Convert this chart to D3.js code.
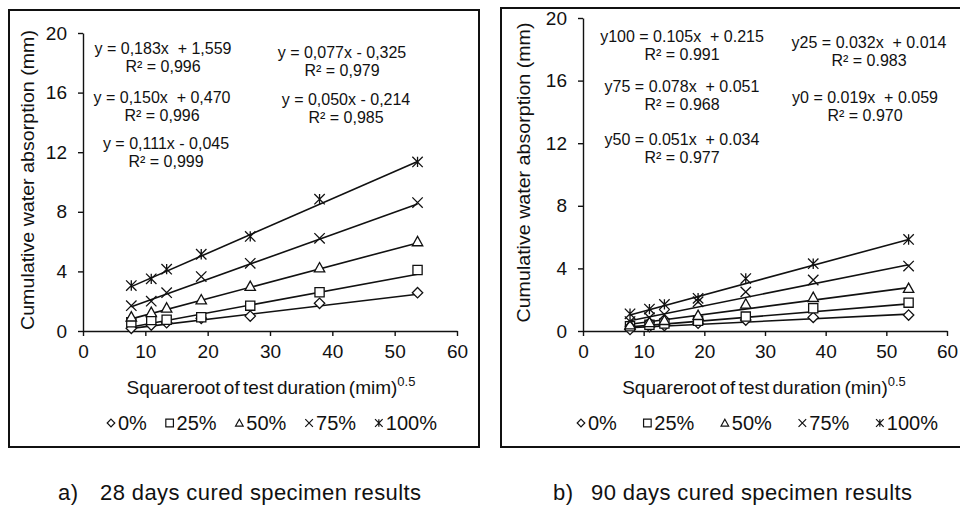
<!DOCTYPE html>
<html>
<head>
<meta charset="utf-8">
<script src="https://cdn.jsdelivr.net/npm/d3@7"></script>
<style>
  body { margin:0; background:#fff; }
  svg { display:block; font-family:"Liberation Sans", Arial, sans-serif; }
  .eq { white-space:pre; }
</style>
</head>
<body>
<svg width="960" height="505"></svg>
<script>

// square root of test duration, minutes^0.5 (60,120,180,360,720,1440,2880 min)
var sqrtTime = [7.75, 10.95, 13.42, 18.97, 26.83, 37.95, 53.67];
var xTicks = [0, 10, 20, 30, 40, 50, 60],
    yTicks = [0, 4, 8, 12, 16, 20];
var seriesNames = ["0%", "25%", "50%", "75%", "100%"],
    seriesSym = ["diamond", "square", "triangle", "cross", "star"];

// 28 days
var d28_0   = [0.18, 0.40, 0.56, 0.85, 1.00, 1.86, 2.57],
    d28_25  = [0.58, 0.74, 0.76, 0.92, 1.70, 2.60, 4.09],
    d28_50  = [0.95, 1.25, 1.55, 2.10, 3.00, 4.25, 6.00],
    d28_75  = [1.70, 2.00, 2.57, 3.65, 4.54, 6.22, 8.62],
    d28_100 = [3.05, 3.50, 4.15, 5.15, 6.35, 8.85, 11.35];
var fit28Slope = [0.050, 0.077, 0.111, 0.150, 0.183],
    fit28Icpt  = [-0.214, -0.325, -0.045, 0.470, 1.559];

// 90 days
var d90_0   = [0.10, 0.28, 0.35, 0.50, 0.70, 0.87, 1.02],
    d90_25  = [0.30, 0.40, 0.48, 0.65, 0.92, 1.45, 1.81],
    d90_50  = [0.40, 0.55, 0.68, 1.00, 1.73, 2.15, 2.73],
    d90_75  = [0.60, 0.85, 1.05, 1.87, 2.50, 3.26, 4.15],
    d90_100 = [1.10, 1.40, 1.70, 2.09, 3.35, 4.30, 5.85];
var fit90Slope = [0.019, 0.032, 0.051, 0.078, 0.105],
    fit90Icpt  = [0.059, 0.014, 0.034, 0.051, 0.215];

var eq28 = [["y = 0,183x  + 1,559", "R² = 0,996"], ["y = 0,150x  + 0,470", "R² = 0,996"],
            ["y = 0,111x - 0,045", "R² = 0,999"], ["y = 0,077x - 0,325", "R² = 0,979"],
            ["y = 0,050x - 0,214", "R² = 0,985"]];
var eq90 = [["y100 = 0.105x  + 0.215", "R² = 0.991"], ["y75 = 0.078x  + 0.051", "R² = 0.968"],
            ["y50 = 0.051x  + 0.034", "R² = 0.977"], ["y25 = 0.032x  + 0.014", "R² = 0.983"],
            ["y0 = 0.019x  + 0.059", "R² = 0.970"]];

var svg = d3.select("svg");

function symPath(t, s) {
  if (t == "diamond") return "M0," + (-s) + "L" + s + ",0L0," + s + "L" + (-s) + ",0Z";
  if (t == "square") return "M" + (-s) + "," + (-s) + "h" + 2*s + "v" + 2*s + "h" + (-2*s) + "Z";
  if (t == "triangle") return "M0," + (-s) + "L" + s + "," + (s*0.8) + "L" + (-s) + "," + (s*0.8) + "Z";
  var c = "M" + (-s) + "," + (-s) + "L" + s + "," + s + "M" + (-s) + "," + s + "L" + s + "," + (-s);
  if (t == "cross") return c;
  return c + "M0," + (-s) + "L0," + s;
}

function panel(p) {
  var g = svg.append("g");
  g.append("rect").attr("x", p.frame[0]).attr("y", p.frame[1])
    .attr("width", p.frame[2]).attr("height", p.frame[3])
    .attr("fill", "none").attr("stroke", "#111").attr("stroke-width", 2);

  var x = d3.scaleLinear().domain([0, 60]).range(p.xr),
      y = d3.scaleLinear().domain([0, 20]).range(p.yr);

  var ya = g.append("g").attr("transform", "translate(" + p.xr[0] + ",0)")
    .call(d3.axisLeft(y).tickValues(yTicks).tickSize(5).tickSizeOuter(0).tickPadding(11));
  var xa = g.append("g").attr("transform", "translate(0," + p.yr[0] + ")")
    .call(d3.axisBottom(x).tickValues(xTicks).tickSize(5).tickSizeOuter(0).tickPadding(9));
  [ya, xa].forEach(function(a) {
    a.selectAll("path,line").attr("stroke", "#111").attr("stroke-width", 1.4);
    a.selectAll("text").attr("fill", "#111").style("font-size", "19px").style("font-family", "inherit");
  });

  // y title
  g.append("text")
    .attr("transform", "translate(" + p.ytX + "," + ((p.yr[0] + p.yr[1]) / 2 - 2) + ") rotate(-90)")
    .attr("text-anchor", "middle").attr("fill", "#111").style("font-size", "19px")
    .attr("textLength", 300).attr("lengthAdjust", "spacingAndGlyphs")
    .text("Cumulative water absorption (mm)");

  // x title with superscript
  var xt = g.append("text").attr("x", p.xtX).attr("y", 394).attr("text-anchor", "middle")
    .attr("fill", "#111").style("font-size", "19px").style("word-spacing", "-2px");
  xt.append("tspan").text(p.xtitle);
  xt.append("tspan").attr("dy", -8).style("font-size", "13px").text("0.5");

  // trendlines
  p.data.forEach(function(vals, i) {
    var x0 = sqrtTime[0], x1 = sqrtTime[sqrtTime.length - 1];
    g.append("line")
      .attr("x1", x(x0)).attr("y1", y(p.slope[i] * x0 + p.icpt[i]))
      .attr("x2", x(x1)).attr("y2", y(p.slope[i] * x1 + p.icpt[i]))
      .attr("stroke", "#111").attr("stroke-width", 1.6);
  });

  // markers
  p.data.forEach(function(vals, i) {
    g.append("g").selectAll("path").data(vals).enter().append("path")
      .attr("transform", function(d, k) { return "translate(" + x(sqrtTime[k]) + "," + y(d) + ")"; })
      .attr("d", symPath(seriesSym[i], i == 1 ? 4.6 : 5.2))
      .attr("fill", i < 3 ? "#fff" : "none")
      .attr("stroke", "#111").attr("stroke-width", 1.3);
  });

  // equations
  p.eq.forEach(function(e, i) {
    var t = g.append("text").attr("class", "eq").attr("text-anchor", "middle")
      .attr("fill", "#111").style("font-size", "16px");
    t.append("tspan").attr("x", p.eqPos[i][0]).attr("y", p.eqPos[i][1]).text(e[0]);
    t.append("tspan").attr("x", p.eqPos[i][0]).attr("y", p.eqPos[i][1] + 18).text(e[1]);
  });

  // legend: symbol + label, spread evenly between legSpan[0] and legSpan[1]
  var items = seriesNames.map(function(n, i) {
    var it = g.append("g");
    it.append("path").attr("transform", "translate(4,-7)")
      .attr("d", symPath(seriesSym[i], 3.8))
      .attr("fill", "none").attr("stroke", "#111").attr("stroke-width", 1.2);
    var t = it.append("text").attr("x", 11).attr("y", 0).attr("fill", "#111")
      .style("font-size", "20px").text(n);
    return {g: it, w: 11 + t.node().getComputedTextLength()};
  });
  var total = d3.sum(items, function(d) { return d.w; }),
      gap = (p.legSpan[1] - p.legSpan[0] - total) / (items.length - 1),
      cx = p.legSpan[0];
  items.forEach(function(d) {
    d.g.attr("transform", "translate(" + cx + ",430)");
    cx += d.w + gap;
  });

  // caption
  var cap = g.append("text").attr("y", 500).attr("fill", "#111")
    .style("font-size", "22px").style("letter-spacing", "0.4px");
  cap.append("tspan").attr("x", p.capX[0]).text(p.cap[0]);
  cap.append("tspan").attr("x", p.capX[1]).text(p.cap[1]);
}

panel({
  frame: [9, 10, 470, 437], xr: [83, 457], yr: [331, 33], ytX: 34, xtX: 271,
  xtitle: "Squareroot of test duration (mim)",
  data: [d28_0, d28_25, d28_50, d28_75, d28_100], slope: fit28Slope, icpt: fit28Icpt,
  eq: eq28, eqPos: [[163, 54], [162, 103], [166, 149], [342, 58], [346, 105]],
  legSpan: [107, 437],
  cap: ["a)", "28 days cured specimen results"], capX: [58, 100]
});

panel({
  frame: [501, 8, 470, 439], xr: [583, 947], yr: [331, 18], ytX: 530, xtX: 764,
  xtitle: "Squareroot of test duration (min)",
  data: [d90_0, d90_25, d90_50, d90_75, d90_100], slope: fit90Slope, icpt: fit90Icpt,
  eq: eq90,
  eqPos: [[682, 42], [682, 92], [682, 145], [869, 48], [865, 103]],
  legSpan: [577, 938],
  cap: ["b)", "90 days cured specimen results"], capX: [553, 591]
});
</script>
</body>
</html>
